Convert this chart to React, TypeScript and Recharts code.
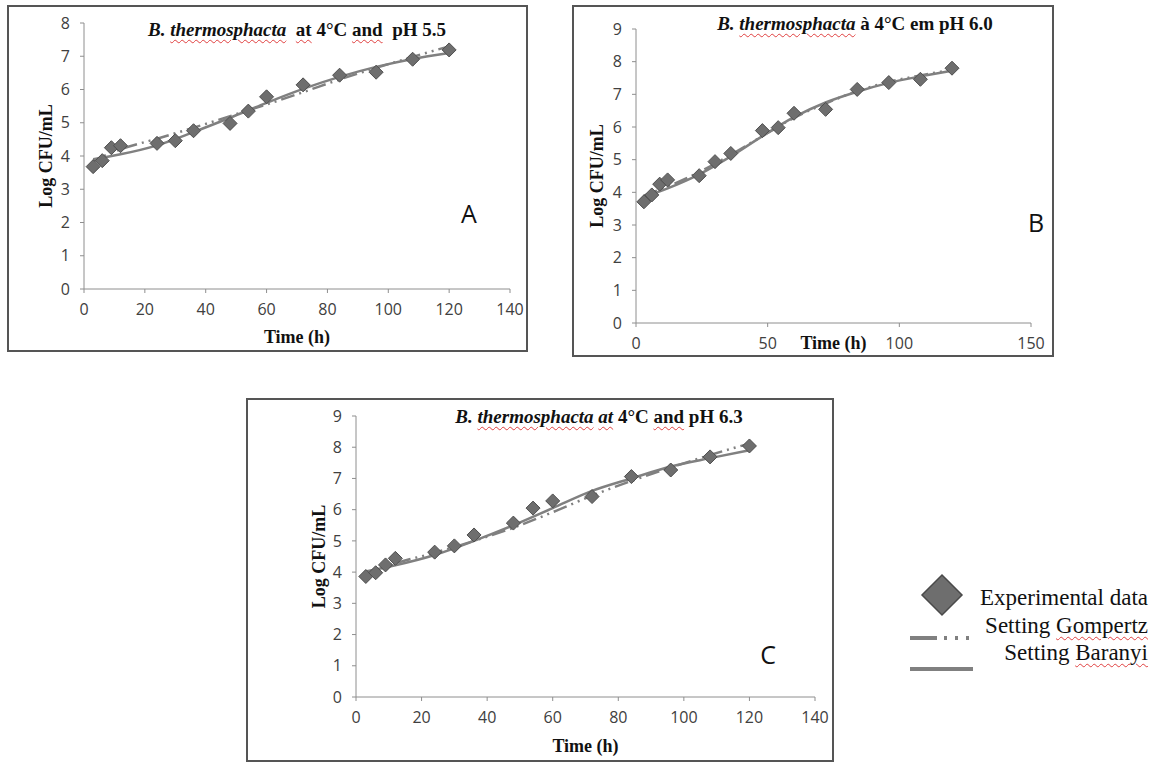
import { ComposedChart, Line, Scatter, XAxis, YAxis } from 'recharts';

// sampling times (h) of the experimental counts
const hours = [3, 6, 9, 12, 24, 30, 36, 48, 54, 60, 72, 84, 96, 108, 120];
// times where the fitted curves were evaluated
const fitHours = [3, 12, 24, 36, 48, 60, 72, 84, 96, 108, 120];

// A: pH 5.5
const expA = [3.68, 3.86, 4.25, 4.31, 4.38, 4.46, 4.76, 4.98, 5.35, 5.78, 6.14, 6.43, 6.52, 6.91, 7.19];
const gompA = [3.85, 4.2, 4.52, 4.85, 5.2, 5.55, 5.92, 6.3, 6.65, 6.98, 7.3];
const barA = [3.9, 4.05, 4.32, 4.72, 5.15, 5.6, 6.02, 6.38, 6.68, 6.92, 7.1];

// B: pH 6.0
const expB = [3.71, 3.92, 4.25, 4.38, 4.51, 4.94, 5.19, 5.89, 5.98, 6.42, 6.54, 7.15, 7.36, 7.46, 7.8];
const gompB = [3.9, 4.18, 4.62, 5.15, 5.72, 6.28, 6.72, 7.1, 7.38, 7.58, 7.75];
const barB = [3.85, 4.12, 4.55, 5.1, 5.72, 6.3, 6.75, 7.08, 7.35, 7.55, 7.72];

// C: pH 6.3
const expC = [3.86, 3.98, 4.23, 4.44, 4.64, 4.84, 5.19, 5.57, 6.05, 6.28, 6.42, 7.06, 7.27, 7.69, 8.04];
const gompC = [3.95, 4.28, 4.62, 5.0, 5.42, 5.92, 6.45, 6.92, 7.35, 7.75, 8.12];
const barC = [4.02, 4.22, 4.55, 5.0, 5.5, 6.05, 6.6, 7.0, 7.38, 7.65, 7.9];

const xTicks140 = [0, 20, 40, 60, 80, 100, 120, 140];
const xTicks150 = [0, 50, 100, 150];
const yTicks8 = [0, 1, 2, 3, 4, 5, 6, 7, 8];
const yTicks9 = [0, 1, 2, 3, 4, 5, 6, 7, 8, 9];

const SERIF = '"Liberation Serif", "Times New Roman", serif';
const SANS = '"Open Sans", "Liberation Sans", sans-serif';
const CURVE = '#808080';
const squiggle = {
  textDecoration: 'underline wavy #e04040',
  textDecorationThickness: '1px',
  textUnderlineOffset: '3px',
};

const Diamond = (props: any) => {
  const { cx, cy } = props;
  if (cx == null || cy == null) return null;
  const r = 7;
  return (
    <polygon
      points={`${cx},${cy - r} ${cx + r},${cy} ${cx},${cy + r} ${cx - r},${cy}`}
      fill="#6e6e6e"
      stroke="#4e4e4e"
      strokeWidth={1}
    />
  );
};

type PanelProps = {
  left: number;
  top: number;
  width: number;
  height: number;
  plot: { top: number; right: number; bottom: number; left: number };
  xDomain: number[];
  xTicks: number[];
  yDomain: number[];
  yTicks: number[];
  exp: number[];
  gomp: number[];
  bar: number[];
  yLabelX: number;
  xLabelY: number;
  title: any;
  titleX: number;
  titleY: number;
  letter: string;
  letterX: number;
  letterY: number;
};

function Panel(p: PanelProps) {
  const points = hours.map((t, i) => ({ t, v: p.exp[i] }));
  const gData = fitHours.map((t, i) => ({ t, v: p.gomp[i] }));
  const bData = fitHours.map((t, i) => ({ t, v: p.bar[i] }));

  return (
    <div style={{ position: 'absolute', left: p.left, top: p.top, width: p.width, height: p.height }}>
      <div
        style={{
          position: 'absolute',
          inset: 0,
          border: '2px solid #555',
          boxSizing: 'border-box',
        }}
      />
      <ComposedChart
        width={p.width}
        height={p.height}
        margin={{ top: p.plot.top, right: p.plot.right, left: 0, bottom: 0 }}
        style={{ position: 'absolute', left: 0, top: 0 }}
      >
        <XAxis
          type="number"
          dataKey="t"
          domain={p.xDomain}
          ticks={p.xTicks}
          interval={0}
          allowDataOverflow
          height={p.plot.bottom}
          stroke="#8e8e8e"
          tickSize={4}
          tickMargin={11}
          tick={{ fill: '#404040', fontSize: 16, fontFamily: SANS }}
          label={{
            content: (lp: any) => {
              const vb = lp.viewBox || {};
              return (
                <text
                  x={vb.x + vb.width / 2}
                  y={p.xLabelY}
                  textAnchor="middle"
                  dominantBaseline="central"
                  fontFamily={SERIF}
                  fontWeight="bold"
                  fontSize={18}
                  fill="#111"
                >
                  Time (h)
                </text>
              );
            },
          }}
        />
        <YAxis
          type="number"
          domain={p.yDomain}
          ticks={p.yTicks}
          interval={0}
          width={p.plot.left}
          stroke="#8e8e8e"
          tickSize={4}
          tickMargin={10}
          tick={{ fill: '#404040', fontSize: 16, fontFamily: SANS }}
          label={{
            content: (lp: any) => {
              const vb = lp.viewBox || {};
              const cy = vb.y + vb.height / 2;
              return (
                <text
                  x={p.yLabelX}
                  y={cy}
                  transform={`rotate(-90, ${p.yLabelX}, ${cy})`}
                  textAnchor="middle"
                  dominantBaseline="central"
                  fontFamily={SERIF}
                  fontWeight="bold"
                  fontSize={18}
                  fill="#111"
                >
                  Log CFU/mL
                </text>
              );
            },
          }}
        />
        <Scatter data={points} dataKey="v" shape={<Diamond />} isAnimationActive={false} />
        <Line
          data={gData}
          dataKey="v"
          type="monotone"
          stroke={CURVE}
          strokeWidth={2.5}
          strokeDasharray="14 5 2 5 2 5"
          dot={false}
          isAnimationActive={false}
        />
        <Line
          data={bData}
          dataKey="v"
          type="monotone"
          stroke={CURVE}
          strokeWidth={2.5}
          dot={false}
          isAnimationActive={false}
        />
      </ComposedChart>
      <div
        style={{
          position: 'absolute',
          left: p.titleX - 220,
          width: 440,
          top: p.titleY - 11,
          textAlign: 'center',
          fontFamily: SERIF,
          fontWeight: 'bold',
          fontSize: 19,
          lineHeight: '22px',
          color: '#111',
          whiteSpace: 'pre',
        }}
      >
        {p.title}
      </div>
      <div
        style={{
          position: 'absolute',
          left: p.letterX - 20,
          width: 40,
          top: p.letterY - 17,
          textAlign: 'center',
          fontFamily: SANS,
          fontSize: 25,
          lineHeight: '34px',
          color: '#111',
        }}
      >
        {p.letter}
      </div>
    </div>
  );
}

const legendText = {
  position: 'absolute' as const,
  right: 8,
  fontFamily: SERIF,
  fontSize: 23,
  lineHeight: '26px',
  color: '#111',
  whiteSpace: 'nowrap' as const,
};

function Legend() {
  return (
    <div style={{ position: 'absolute', left: 900, top: 570, width: 256, height: 110 }}>
      <svg width={256} height={110} style={{ position: 'absolute', left: 0, top: 0 }}>
        <polygon points="42,5 62,25 42,45 22,25" fill="#6e6e6e" stroke="#4a4a4a" strokeWidth={1.5} />
        <line x1={10} y1={68} x2={73} y2={68} stroke={CURVE} strokeWidth={4} strokeDasharray="27 7 3 8 3 8 3" />
        <line x1={10} y1={99} x2={73} y2={99} stroke={CURVE} strokeWidth={4} />
      </svg>
      <div style={{ ...legendText, top: 15 }}>Experimental data</div>
      <div style={{ ...legendText, top: 43 }}>
        Setting <span style={squiggle}>Gompertz</span>
      </div>
      <div style={{ ...legendText, top: 70 }}>
        Setting <span style={squiggle}>Baranyi</span>
      </div>
    </div>
  );
}

export default function App() {
  return (
    <div style={{ position: 'absolute', left: 0, top: 0, width: 1156, height: 763, background: '#fff' }}>
      <Panel
        left={7}
        top={5}
        width={521}
        height={347}
        plot={{ top: 18, right: 18, bottom: 63, left: 77 }}
        xDomain={[0, 140]}
        xTicks={xTicks140}
        yDomain={[0, 8]}
        yTicks={yTicks8}
        exp={expA}
        gomp={gompA}
        bar={barA}
        yLabelX={39}
        xLabelY={332}
        title={
          <>
            <i>
              B. <span style={squiggle}>thermosphacta</span>
            </i>
            {'  '}
            <span style={squiggle}>at</span> 4°C <span style={squiggle}>and</span>
            {'  '}pH 5.5
          </>
        }
        titleX={290}
        titleY={25}
        letter="A"
        letterX={462}
        letterY={208}
      />
      <Panel
        left={572}
        top={5}
        width={482}
        height={352}
        plot={{ top: 24, right: 23, bottom: 34, left: 64 }}
        xDomain={[0, 150]}
        xTicks={xTicks150}
        yDomain={[0, 9]}
        yTicks={yTicks9}
        exp={expB}
        gomp={gompB}
        bar={barB}
        yLabelX={25}
        xLabelY={338}
        title={
          <>
            <i>
              B. <span style={squiggle}>thermosphacta</span>
            </i>{' '}
            à 4°C em pH 6.0
          </>
        }
        titleX={283}
        titleY={19}
        letter="B"
        letterX={464}
        letterY={217}
      />
      <Panel
        left={246}
        top={398}
        width={588}
        height={364}
        plot={{ top: 18, right: 19, bottom: 65, left: 110 }}
        xDomain={[0, 140]}
        xTicks={xTicks140}
        yDomain={[0, 9]}
        yTicks={yTicks9}
        exp={expC}
        gomp={gompC}
        bar={barC}
        yLabelX={73}
        xLabelY={348}
        title={
          <>
            <i>
              B. <span style={squiggle}>thermosphacta</span> <span style={squiggle}>at</span>
            </i>{' '}
            4°C <span style={squiggle}>and</span> pH 6.3
          </>
        }
        titleX={353}
        titleY={19}
        letter="C"
        letterX={522}
        letterY={256}
      />
      <Legend />
    </div>
  );
}
